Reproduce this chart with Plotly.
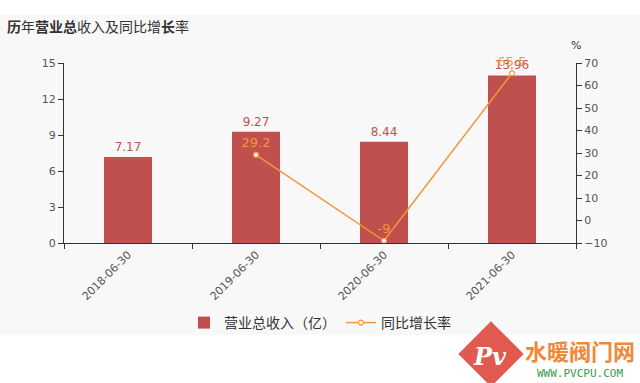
import plotly.graph_objects as go

categories = ["2018-06-30", "2019-06-30", "2020-06-30", "2021-06-30"]
revenue = [7.17, 9.27, 8.44, 13.96]
growth = [None, 29.2, -9, 65.5]
growth_labels = ["", "29.2", "-9", "65.5"]
left_ticks = [0, 3, 6, 9, 12, 15]
right_ticks = [-10, 0, 10, 20, 30, 40, 50, 60, 70]

BAR = "#c0504d"
LINE = "#f7943c"
FONT = "DejaVu Sans, Noto Sans CJK SC"

fig = go.Figure()
fig.add_trace(go.Bar(
    x=categories, y=revenue, name="营业总收入（亿）",
    marker=dict(color=BAR, line=dict(width=0)),
    text=[f"{v:.2f}" for v in revenue], textposition="outside",
    textfont=dict(color=BAR, size=12, family=FONT),
    cliponaxis=False,
))
fig.add_trace(go.Scatter(
    x=categories, y=growth, name="同比增长率", yaxis="y2",
    mode="lines+markers+text",
    line=dict(color=LINE, width=1.5),
    marker=dict(symbol="circle", size=5, color="white", line=dict(color=LINE, width=1.2)),
    text=growth_labels, textposition="top center",
    textfont=dict(color=LINE, size=13, family=FONT),
    cliponaxis=False,
))

def px(x):
    return (x - 64) / 512

def py(y):
    return (243 - y) / 180

shapes = [
    dict(type="rect", xref="paper", yref="paper", x0=px(0), x1=px(640), y0=py(15), y1=py(335),
         fillcolor="#f8f8f8", line=dict(width=0), layer="below"),
    dict(type="path", xref="paper", yref="paper",
         path=f"M {px(491)},{py(327)} L {px(518)},{py(354)} L {px(491)},{py(381)} L {px(464)},{py(354)} Z",
         fillcolor="#e05a50", line=dict(color="#e05a50", width=8), layer="above"),
]

annotations = [
    dict(text="<b>历</b>年<b>营业总</b>收入及同比增<b>长</b>率", xref="paper", yref="paper",
         x=px(5), y=py(26), xanchor="left", yanchor="middle", showarrow=False,
         font=dict(size=14, color="#333", family="Noto Sans CJK SC")),
    dict(text="%", xref="paper", yref="paper", x=px(576), y=py(46), xanchor="center",
         yanchor="middle", showarrow=False, font=dict(size=11, color="#333", family=FONT)),
    dict(text="<i><b>Pv</b></i>", xref="paper", yref="paper", x=px(490), y=py(356),
         xanchor="center", yanchor="middle", showarrow=False,
         font=dict(size=24, color="white", family="DejaVu Serif")),
    dict(text="<b>水暖阀门网</b>", xref="paper", yref="paper", x=px(580), y=py(350),
         xanchor="center", yanchor="middle", showarrow=False,
         font=dict(size=22, color="#f0883a", family="Noto Sans CJK SC")),
    dict(text="WWW.PVCPU.COM", xref="paper", yref="paper", x=px(580), y=py(373),
         xanchor="center", yanchor="middle", showarrow=False,
         font=dict(size=11, color="#3a9a46", family="DejaVu Sans Mono")),
]

fig.update_layout(
    width=640, height=383,
    margin=dict(l=64, r=64, t=63, b=140, autoexpand=False),
    paper_bgcolor="white", plot_bgcolor="rgba(0,0,0,0)",
    bargap=0.625,
    font=dict(family=FONT, size=11, color="#555"),
    xaxis=dict(type="category", tickangle=-45, showgrid=False, showline=True,
               linecolor="#333", linewidth=1, ticks="outside", ticklen=5, tickcolor="#333",
               tickson="boundaries", tickfont=dict(size=11, color="#555"), zeroline=False),
    yaxis=dict(range=[0, 15], tickvals=left_ticks, showgrid=False, showline=True,
               linecolor="#333", linewidth=1, ticks="outside", ticklen=5, tickcolor="#333",
               zeroline=False, tickfont=dict(size=11, color="#555")),
    yaxis2=dict(range=[-10, 70], tickvals=right_ticks, overlaying="y", side="right",
                showgrid=False, showline=True, linecolor="#333", linewidth=1,
                ticks="outside", ticklen=5, tickcolor="#333", zeroline=False,
                tickfont=dict(size=11, color="#555")),
    legend=dict(orientation="h", x=0.5, xanchor="center", y=py(323), yanchor="middle",
                font=dict(size=14, color="#333", family="Noto Sans CJK SC"),
                bgcolor="rgba(0,0,0,0)", itemwidth=30),
    shapes=shapes, annotations=annotations, showlegend=True,
)

fig.write_html("out.html", config={"displayModeBar": False},
               post_script="document.body.style.margin='0px';document.body.style.overflow='hidden';")
